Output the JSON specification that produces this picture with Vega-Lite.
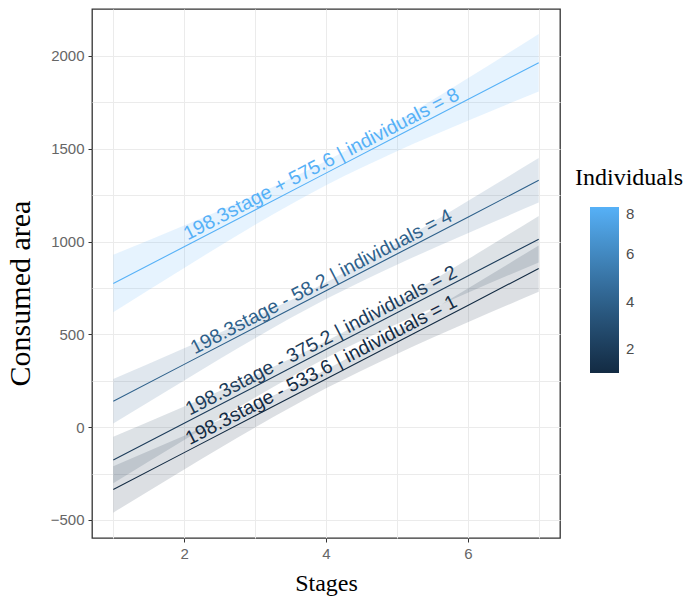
{
  "$schema": "https://vega.github.io/schema/vega-lite/v6.json",
  "width": 468,
  "height": 529,
  "autosize": {"type": "none"},
  "padding": {"left": 92, "top": 9, "right": 129, "bottom": 60},
  "background": "white",
  "config": {
    "view": {"stroke": "#333333", "strokeWidth": 1.3},
    "font": "Liberation Sans"
  },
  "datasets": {
    "fits": [
      {"stage": 1, "individuals": 8, "fit": 773.9, "lo": 618.9, "hi": 928.9},
      {"stage": 2, "individuals": 8, "fit": 972.2, "lo": 858.2, "hi": 1086.2},
      {"stage": 3, "individuals": 8, "fit": 1170.5, "lo": 1090.5, "hi": 1250.5},
      {"stage": 4, "individuals": 8, "fit": 1368.8, "lo": 1303.8, "hi": 1433.8},
      {"stage": 5, "individuals": 8, "fit": 1567.1, "lo": 1487.1, "hi": 1647.1},
      {"stage": 6, "individuals": 8, "fit": 1765.4, "lo": 1651.4, "hi": 1879.4},
      {"stage": 7, "individuals": 8, "fit": 1963.7, "lo": 1808.7, "hi": 2118.7},
      {"stage": 1, "individuals": 4, "fit": 140.1, "lo": 20.1, "hi": 260.1},
      {"stage": 2, "individuals": 4, "fit": 338.4, "lo": 251.4, "hi": 425.4},
      {"stage": 3, "individuals": 4, "fit": 536.7, "lo": 478.7, "hi": 594.7},
      {"stage": 4, "individuals": 4, "fit": 735.0, "lo": 690.0, "hi": 780.0},
      {"stage": 5, "individuals": 4, "fit": 933.3, "lo": 875.3, "hi": 991.3},
      {"stage": 6, "individuals": 4, "fit": 1131.6, "lo": 1044.6, "hi": 1218.6},
      {"stage": 7, "individuals": 4, "fit": 1329.9, "lo": 1209.9, "hi": 1449.9},
      {"stage": 1, "individuals": 2, "fit": -176.9, "lo": -301.9, "hi": -51.9},
      {"stage": 2, "individuals": 2, "fit": 21.4, "lo": -68.6, "hi": 111.4},
      {"stage": 3, "individuals": 2, "fit": 219.7, "lo": 159.7, "hi": 279.7},
      {"stage": 4, "individuals": 2, "fit": 418.0, "lo": 373.0, "hi": 463.0},
      {"stage": 5, "individuals": 2, "fit": 616.3, "lo": 556.3, "hi": 676.3},
      {"stage": 6, "individuals": 2, "fit": 814.6, "lo": 724.6, "hi": 904.6},
      {"stage": 7, "individuals": 2, "fit": 1012.9, "lo": 887.9, "hi": 1137.9},
      {"stage": 1, "individuals": 1, "fit": -335.3, "lo": -460.3, "hi": -210.3},
      {"stage": 2, "individuals": 1, "fit": -137.0, "lo": -228.0, "hi": -46.0},
      {"stage": 3, "individuals": 1, "fit": 61.3, "lo": -1.7, "hi": 124.3},
      {"stage": 4, "individuals": 1, "fit": 259.6, "lo": 209.6, "hi": 309.6},
      {"stage": 5, "individuals": 1, "fit": 457.9, "lo": 394.9, "hi": 520.9},
      {"stage": 6, "individuals": 1, "fit": 656.2, "lo": 565.2, "hi": 747.2},
      {"stage": 7, "individuals": 1, "fit": 854.5, "lo": 729.5, "hi": 979.5}
    ],
    "labels": [
      {"stage": 4, "individuals": 8, "fit": 1368.8, "label": "198.3stage + 575.6 | individuals = 8"},
      {"stage": 4, "individuals": 4, "fit": 735.0, "label": "198.3stage - 58.2 | individuals = 4"},
      {"stage": 4, "individuals": 2, "fit": 418.0, "label": "198.3stage - 375.2 | individuals = 2"},
      {"stage": 4, "individuals": 1, "fit": 259.6, "label": "198.3stage - 533.6 | individuals = 1"}
    ]
  },
  "encoding": {
    "x": {
      "field": "stage", "type": "quantitative",
      "scale": {"domain": [0.7, 7.3], "nice": false, "zero": false},
      "axis": {
        "title": "Stages",
        "values": [1, 2, 3, 4, 5, 6, 7],
        "labelExpr": "datum.value % 2 == 0 ? datum.label : ''",
        "tickOpacity": {"condition": {"test": "datum.value % 2 == 0", "value": 1}, "value": 0},
        "domain": false,
        "grid": true, "gridColor": "#EBEBEB", "gridWidth": 1,
        "tickColor": "#333333", "tickSize": 4,
        "labelFont": "Liberation Sans", "labelFontSize": 15, "labelColor": "#666666", "labelPadding": 4,
        "titleFont": "Liberation Serif", "titleFontSize": 24, "titleFontWeight": "normal", "titleColor": "#000000",
        "titleBaseline": "alphabetic", "titleY": 52
      }
    },
    "y": {
      "type": "quantitative",
      "scale": {"domain": [-597, 2253], "nice": false, "zero": false},
      "axis": {
        "title": "Consumed area",
        "values": [-500, -250, 0, 250, 500, 750, 1000, 1250, 1500, 1750, 2000],
        "labelExpr": "datum.value % 500 == 0 ? datum.label : ''",
        "tickOpacity": {"condition": {"test": "datum.value % 500 == 0", "value": 1}, "value": 0},
        "format": "d",
        "domain": false,
        "grid": true, "gridColor": "#EBEBEB", "gridWidth": 1,
        "tickColor": "#333333", "tickSize": 4,
        "labelFont": "Liberation Sans", "labelFontSize": 15, "labelColor": "#666666", "labelPadding": 4,
        "titleFont": "Liberation Serif", "titleFontSize": 30, "titleFontWeight": "normal", "titleColor": "#000000",
        "titleBaseline": "bottom", "titleX": -57, "titleY": 284
      }
    }
  },
  "layer": [
    {
      "data": {"name": "fits"},
      "mark": {"type": "area", "opacity": 0.15, "interpolate": "monotone"},
      "encoding": {
        "y": {"field": "lo"},
        "y2": {"field": "hi"},
        "detail": {"field": "individuals", "type": "nominal"},
        "color": {
          "field": "individuals", "type": "quantitative",
          "scale": {"type": "linear", "domain": [1, 8], "range": ["#132B43", "#56B1F7"], "interpolate": "lab"},
          "legend": {
            "title": "Individuals",
            "orient": "none", "legendX": 483, "legendY": 157,
            "values": [2, 4, 6, 8],
            "gradientLength": 166, "gradientThickness": 29, "gradientStrokeWidth": 0, "gradientOpacity": 1,
            "labelFont": "Liberation Sans", "labelFontSize": 15, "labelColor": "#4D4D4D", "labelOffset": 22,
            "titleFont": "Liberation Serif", "titleFontSize": 24, "titleFontWeight": "normal", "titleColor": "#000000",
            "titlePadding": 17, "titleLimit": 300,
            "encode": {"gradient": {"update": {"x": {"value": 15}}}}
          }
        }
      }
    },
    {
      "data": {"name": "fits"},
      "mark": {"type": "line", "strokeWidth": 1.1},
      "encoding": {
        "y": {"field": "fit"},
        "detail": {"field": "individuals", "type": "nominal"},
        "stroke": {
          "field": "individuals", "type": "quantitative",
          "scale": {"type": "linear", "domain": [0.9999, 8], "range": ["#132B43", "#56B1F7"], "interpolate": "lab"},
          "legend": null
        }
      }
    },
    {
      "data": {"name": "labels"},
      "mark": {"type": "text", "angle": 332.57, "align": "center", "baseline": "alphabetic", "dy": -4, "font": "Liberation Sans", "fontSize": 19.5},
      "encoding": {
        "y": {"field": "fit"},
        "text": {"field": "label"},
        "fill": {
          "field": "individuals", "type": "quantitative",
          "scale": {"type": "linear", "domain": [1, 8.0001], "range": ["#132B43", "#56B1F7"], "interpolate": "lab"},
          "legend": null
        }
      }
    }
  ]
}
